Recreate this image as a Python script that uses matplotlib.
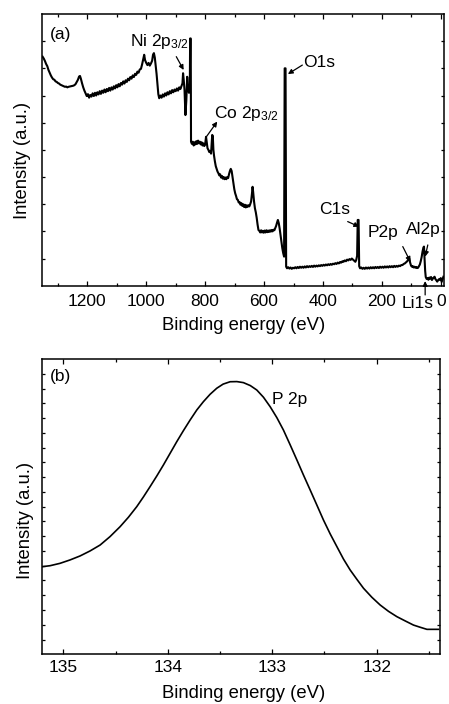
import matplotlib
matplotlib.use('Agg')
import matplotlib.pyplot as plt
from matplotlib.ticker import MultipleLocator, FixedLocator

plt.rcParams['font.family'] = ['Liberation Sans', 'DejaVu Sans']
plt.rcParams['mathtext.fontset'] = 'custom'
plt.rcParams['mathtext.rm'] = 'Liberation Sans'
plt.rcParams['mathtext.it'] = 'Liberation Sans:italic'

# ---------------- data: (a) survey spectrum ----------------
survey_energy = [
    1352, 1348, 1344, 1340, 1336, 1332, 1328, 1324, 1320, 1316, 1312, 1308, 1304, 1300,
    1296, 1292, 1288, 1284, 1280, 1276, 1272, 1268, 1264, 1260, 1256, 1252, 1248, 1244,
    1240, 1236, 1232, 1228, 1225, 1222, 1218, 1214, 1210, 1206, 1202, 1198, 1194, 1190,
    1186, 1182, 1178, 1174, 1170, 1166, 1162, 1158, 1154, 1150, 1146, 1142, 1138, 1134,
    1130, 1126, 1122, 1118, 1114, 1110, 1106, 1102, 1098, 1094, 1090, 1086, 1082, 1078,
    1074, 1070, 1066, 1062, 1058, 1054, 1050, 1046, 1042, 1038, 1034, 1030, 1026, 1022,
    1018, 1014, 1010, 1007, 1004, 1000, 996, 992, 988, 984, 980, 977, 974, 971, 968,
    965, 962, 959, 956, 952, 948, 944, 940, 936, 932, 928, 924, 920, 916, 912, 908, 904,
    900, 896, 892, 888, 884, 880, 877, 875, 873, 870, 867, 864, 861, 858, 855, 852, 851,
    849, 848, 845, 842, 839, 836, 833, 830, 827, 824, 821, 818, 815, 812, 809, 806, 803,
    800, 797, 795, 792, 789, 786, 783, 780, 778, 776, 774, 772, 770, 767, 764, 761, 758,
    755, 752, 749, 746, 743, 740, 737, 734, 731, 728, 725, 722, 719, 716, 713, 710, 707,
    704, 701, 698, 695, 692, 689, 686, 683, 680, 677, 674, 671, 668, 665, 662, 659, 656,
    653, 650, 647, 644, 641, 639, 637, 634, 631, 628, 625, 622, 619, 616, 613, 610, 607,
    604, 601, 598, 595, 592, 589, 586, 583, 580, 577, 574, 571, 568, 565, 562, 559, 556,
    553, 550, 547, 544, 541, 538, 535, 532, 530, 527, 525, 522, 518, 514, 510, 506, 502,
    498, 494, 490, 486, 482, 478, 474, 470, 466, 462, 458, 454, 450, 446, 442, 438, 434,
    430, 426, 422, 418, 414, 410, 406, 402, 398, 394, 390, 386, 382, 378, 374, 370, 366,
    362, 358, 354, 350, 346, 342, 338, 334, 330, 326, 322, 318, 314, 310, 306, 302, 298,
    294, 290, 287, 284, 282, 279, 277, 274, 270, 266, 262, 258, 254, 250, 246, 242, 238,
    234, 230, 226, 222, 218, 214, 210, 206, 202, 198, 194, 190, 186, 182, 178, 174, 170,
    166, 162, 158, 154, 150, 146, 142, 138, 134, 130, 126, 122, 118, 114, 110, 107, 104,
    101, 98, 95, 92, 89, 86, 83, 80, 77, 74, 71, 68, 65, 62, 59, 57, 55, 53, 51, 48, 45,
    42, 39, 36, 33, 30, 27, 24, 21, 18, 15, 12, 9, 6, 3, 0, -3, -6, -9,
]
survey_intensity = [
    8.43, 8.36, 8.27, 8.16, 8.08, 7.94, 7.84, 7.74, 7.66, 7.60, 7.58, 7.52, 7.50, 7.46,
    7.44, 7.40, 7.38, 7.36, 7.34, 7.32, 7.33, 7.30, 7.32, 7.33, 7.34, 7.35, 7.36, 7.38,
    7.42, 7.50, 7.58, 7.70, 7.72, 7.62, 7.45, 7.30, 7.18, 7.08, 6.98, 7.05, 6.92, 7.02,
    6.96, 7.08, 6.98, 7.10, 7.00, 7.12, 7.04, 7.16, 7.06, 7.18, 7.10, 7.22, 7.12, 7.24,
    7.16, 7.28, 7.18, 7.30, 7.22, 7.34, 7.26, 7.38, 7.30, 7.42, 7.34, 7.46, 7.40, 7.52,
    7.44, 7.56, 7.50, 7.62, 7.56, 7.68, 7.62, 7.74, 7.68, 7.80, 7.76, 7.88, 7.84, 7.96,
    7.98, 8.15, 8.35, 8.50, 8.30, 8.20, 8.12, 8.20, 8.10, 8.18, 8.28, 8.50, 8.56, 8.40, 8.10,
    7.80, 7.40, 7.05, 6.90, 7.00, 6.92, 7.04, 6.96, 7.08, 7.00, 7.12, 7.04, 7.16, 7.08, 7.20, 7.12, 7.22,
    7.16, 7.26, 7.18, 7.30, 7.24, 7.36, 7.45, 7.82, 7.60, 7.20, 6.28, 6.80, 7.69, 7.25, 7.10, 7.40, 9.10,
    9.10, 5.30, 5.22, 5.30, 5.16, 5.28, 5.20, 5.32, 5.22, 5.34, 5.24, 5.30, 5.20, 5.28, 5.16, 5.24, 5.14,
    5.20, 5.48, 5.30, 5.06, 5.00, 4.92, 4.96, 4.86, 5.20, 5.55, 5.50, 5.00, 4.80, 4.58, 4.40, 4.30, 4.20,
    4.14, 4.06, 4.10, 3.98, 4.04, 3.94, 4.00, 3.92, 3.98, 3.92, 4.00, 3.96, 4.10, 4.22, 4.30, 4.22, 4.00,
    3.78, 3.55, 3.40, 3.30, 3.18, 3.16, 3.06, 3.08, 2.98, 3.04, 2.94, 3.00, 2.90, 2.98, 2.88, 2.96, 2.90,
    2.96, 2.92, 3.00, 3.10, 3.40, 3.64, 3.45, 3.10, 2.85, 2.70, 2.50, 2.25, 2.05, 2.02, 1.96, 2.04, 1.96,
    2.02, 1.95, 2.03, 1.96, 2.04, 1.97, 2.03, 1.98, 2.04, 1.99, 2.05, 2.00, 2.06, 2.04, 2.12, 2.20, 2.32,
    2.42, 2.30, 2.10, 1.85, 1.60, 1.38, 1.20, 1.07, 8.00, 8.00, 0.70, 0.64, 0.68, 0.63, 0.67, 0.62, 0.66,
    0.64, 0.68, 0.64, 0.69, 0.65, 0.70, 0.66, 0.70, 0.66, 0.71, 0.67, 0.72, 0.68, 0.72, 0.69, 0.73, 0.69,
    0.74, 0.70, 0.74, 0.71, 0.75, 0.72, 0.76, 0.73, 0.77, 0.74, 0.78, 0.75, 0.79, 0.76, 0.80, 0.77, 0.81,
    0.79, 0.83, 0.80, 0.85, 0.82, 0.87, 0.85, 0.90, 0.88, 0.93, 0.90, 0.96, 0.93, 0.98, 0.95, 1.00, 0.96,
    0.92, 0.88, 0.95, 1.10, 2.42, 2.42, 0.72, 0.64, 0.67, 0.62, 0.66, 0.62, 0.67, 0.63, 0.67, 0.63, 0.68,
    0.64, 0.68, 0.64, 0.69, 0.65, 0.69, 0.65, 0.70, 0.66, 0.70, 0.66, 0.71, 0.67, 0.71, 0.67, 0.72, 0.68,
    0.72, 0.68, 0.73, 0.69, 0.73, 0.70, 0.74, 0.72, 0.76, 0.76, 0.80, 0.82, 0.86, 0.90, 0.96, 1.01, 0.85,
    0.74, 0.70, 0.72, 0.67, 0.70, 0.66, 0.69, 0.65, 0.66, 0.72, 0.78, 0.90, 1.05, 1.25, 1.40, 1.44, 1.00, 0.55, 0.32, 0.25, 0.28,
    0.22, 0.30, 0.26, 0.32, 0.21, 0.26, 0.30, 0.33, 0.24, 0.20, 0.15, 0.20, 0.24, 0.22, 0.28, 0.14, 0.24, 0.33,
]

# ---------------- data: (b) P 2p high-resolution ----------------
p2p_energy = [135.207, 135.127, 135.032, 134.936, 134.840, 134.744, 134.648, 134.553,
              134.457, 134.377, 134.297, 134.234, 134.170, 134.105, 134.042, 133.978,
              133.914, 133.851, 133.786, 133.722, 133.659, 133.595, 133.531, 133.470,
              133.403, 133.339, 133.276, 133.210, 133.148, 133.084, 133.020, 132.956,
              132.893, 132.828, 132.764, 132.701, 132.637, 132.573, 132.510, 132.445,
              132.381, 132.318, 132.254, 132.190, 132.126, 132.046, 131.967, 131.887,
              131.807, 131.727, 131.648, 131.583, 131.519, 131.408]
p2p_intensity = [5.93, 6.00, 6.16, 6.39, 6.66, 7.00, 7.40, 7.97,
                 8.64, 9.28, 10.00, 10.65, 11.35, 12.08, 12.82, 13.61,
                 14.40, 15.14, 15.87, 16.55, 17.11, 17.61, 18.02, 18.30,
                 18.46, 18.47, 18.40, 18.20, 17.90, 17.41, 16.77, 16.03,
                 15.19, 14.18, 13.16, 12.14, 11.13, 10.11, 9.10, 8.15,
                 7.29, 6.45, 5.71, 5.08, 4.47, 3.86, 3.34, 2.91,
                 2.55, 2.26, 1.98, 1.83, 1.69, 1.69]

survey_xticks = [1200, 1000, 800, 600, 400, 200, 0]
p2p_xticks = [135, 134, 133, 132]

W, H = 449, 704
fig = plt.figure(figsize=(W / 100, H / 100), dpi=100)


def px_axes(l, t, r, b):
    return fig.add_axes([l / W, 1 - b / H, (r - l) / W, (b - t) / H])


axa = px_axes(41.7, 14, 444, 285.7)
axb = px_axes(41.7, 359, 440, 654.3)

FS = 12.5
for ax in (axa, axb):
    for s in ax.spines.values():
        s.set_linewidth(1.1)
    ax.tick_params(which='both', direction='in', top=True, right=True,
                   labelleft=False, width=0.9, labelsize=FS)
    ax.tick_params(axis='x', which='major', length=3.8)
    ax.tick_params(axis='x', which='minor', length=2.3)
    ax.tick_params(axis='y', which='major', length=2.3)

axa.tick_params(axis='x', pad=6)
axb.tick_params(axis='x', pad=4)

# ---- panel (a)
axa.plot(survey_energy, survey_intensity, color='black', lw=1.5)
axa.set_xlim(1355, -11)
axa.set_ylim(0, 10)
axa.xaxis.set_major_locator(FixedLocator(survey_xticks))
axa.set_xticklabels([str(v) for v in survey_xticks])
axa.xaxis.set_minor_locator(MultipleLocator(100))
axa.yaxis.set_major_locator(FixedLocator(list(range(1, 10))))

arrow = dict(arrowstyle='-|>', color='black', lw=0.9, mutation_scale=7,
             shrinkA=0, shrinkB=0)
axa.text(0.021, 0.907, '(a)', transform=axa.transAxes, fontsize=FS, va='baseline')
axa.text(1054, 8.82, r'Ni 2p$_{\mathregular{3/2}}$', fontsize=FS, va='baseline')
axa.annotate('', xy=(873, 7.94), xytext=(898, 8.43), arrowprops=arrow)
axa.text(468, 8.06, 'O1s', fontsize=FS, va='baseline')
axa.annotate('', xy=(519, 7.79), xytext=(470, 8.12), arrowprops=arrow)
axa.text(771, 6.16, r'Co 2p$_{\mathregular{3/2}}$', fontsize=FS, va='baseline')
axa.annotate('', xy=(759, 6.04), xytext=(796, 5.48), arrowprops=arrow)
axa.text(413, 2.64, 'C1s', fontsize=FS, va='baseline')
axa.annotate('', xy=(277, 2.17), xytext=(316, 2.36), arrowprops=arrow)
axa.text(248, 1.78, 'P2p', fontsize=FS, va='baseline')
axa.annotate('', xy=(103, 0.88), xytext=(129, 1.44), arrowprops=arrow)
axa.text(117.6, 1.90, 'Al2p', fontsize=FS, va='baseline')
axa.annotate('', xy=(53, 1.07), xytext=(44, 1.50), arrowprops=arrow)
axa.text(23, -0.83, 'Li1s', fontsize=FS, va='baseline', ha='right', clip_on=False)
axa.annotate('', xy=(53, 0.17), xytext=(53, -0.34), arrowprops=arrow,
             annotation_clip=False)

# ---- panel (b)
axb.plot(p2p_energy, p2p_intensity, color='black', lw=1.2)
axb.set_xlim(135.207, 131.394)
axb.set_ylim(0, 20)
axb.xaxis.set_major_locator(FixedLocator(p2p_xticks))
axb.set_xticklabels([str(v) for v in p2p_xticks])
axb.xaxis.set_minor_locator(MultipleLocator(0.5))
axb.yaxis.set_major_locator(FixedLocator(list(range(1, 20))))
axb.text(0.021, 0.9265, '(b)', transform=axb.transAxes, fontsize=FS, va='baseline')
axb.text(133.004, 16.95, 'P 2p', fontsize=FS, va='baseline')

# axis labels
LFS = 13.3
fig.text(244 / W, 1 - 325 / H, 'Binding energy (eV)', fontsize=LFS, ha='center', va='center')
fig.text(244 / W, 1 - 693.5 / H, 'Binding energy (eV)', fontsize=LFS, ha='center', va='center')
fig.text(22.5 / W, 1 - 160.8 / H, 'Intensity (a.u.)', fontsize=LFS, ha='center', va='center', rotation=90)
fig.text(25 / W, 1 - 520 / H, 'Intensity (a.u.)', fontsize=LFS, ha='center', va='center', rotation=90)

fig.savefig('out.png', dpi=100)
